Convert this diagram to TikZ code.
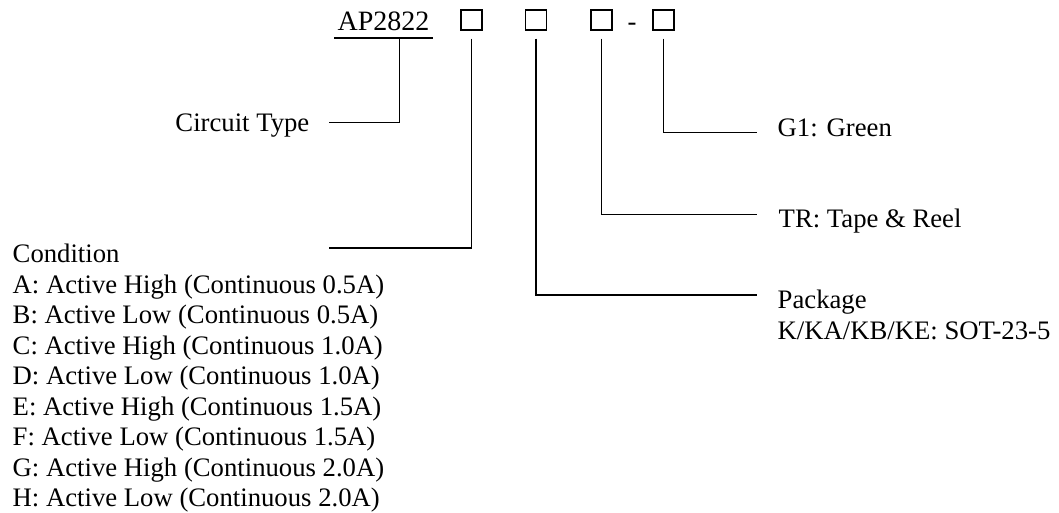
\documentclass[tikz,border=0pt]{standalone}
\usepackage{fontspec}
\setmainfont{Liberation Serif}
\usepackage{tikz}

\tikzset{pbox/.style={draw,line width=1.3pt,minimum width=21pt,minimum height=20pt,inner sep=0pt},
         txt/.style={inner sep=0pt,anchor=base west,align=left}}

\begin{document}
\begin{tikzpicture}[x=1pt,y=-1pt,line width=1.4pt,font=\fontsize{26.7pt}{30.5pt}\selectfont]
                \useasboundingbox (0,0) rectangle (1059,513);
                \node[anchor=base west,inner xsep=3pt,inner ysep=6pt,font=\fontsize{28pt}{30pt}\selectfont] (ap) at (334,31) {AP2822};
                \draw (ap.south west) -- (ap.south east);
                \node[pbox] (b1) at (471.5,20) {};
                \node[pbox] (b2) at (536,20) {};
                \node[pbox] (b3) at (601.5,20) {};
                \node[anchor=base,inner sep=0pt] (dash) at (632,31) {-};
                \node[pbox] (b4) at (663.5,20) {};
                \coordinate (ctend) at (329,122.5);
                \coordinate (condend) at (329,248);
                \coordinate (pkgend) at (757,295);
                \coordinate (trend) at (757,214.5);
                \coordinate (g1end) at (757,132.5);
                \node[txt,anchor=base east] (ctype) at (310,132) {Circuit Type};
                \node[txt,anchor=north west] (cond) at (12,243.5) {Condition\\A: Active High (Continuous 0.5A)\\B: Active Low (Continuous 0.5A)\\C: Active High (Continuous 1.0A)\\D: Active Low (Continuous 1.0A)\\E: Active High (Continuous 1.5A)\\F: Active Low (Continuous 1.5A)\\G: Active High (Continuous 2.0A)\\H: Active Low (Continuous 2.0A)};
                \node[txt,anchor=north west] (pkg) at (777,289.5) {Package\\K/KA/KB/KE: SOT-23-5};
                \node[txt] (tr) at (778,227) {TR: Tape \& Reel};
                \node[txt] (g1) at (777,137) {G1: Green};
                \draw (ctend) -| ([xshift=16pt]ap.south);
                \draw ([yshift=-8pt]b1.south) |- (condend);
                \draw ([yshift=-8pt]b2.south) |- (pkgend);
                \draw ([yshift=-8pt]b3.south) |- (trend);
                \draw ([yshift=-8pt]b4.south) |- (g1end);
            \end{tikzpicture}
\end{document}
